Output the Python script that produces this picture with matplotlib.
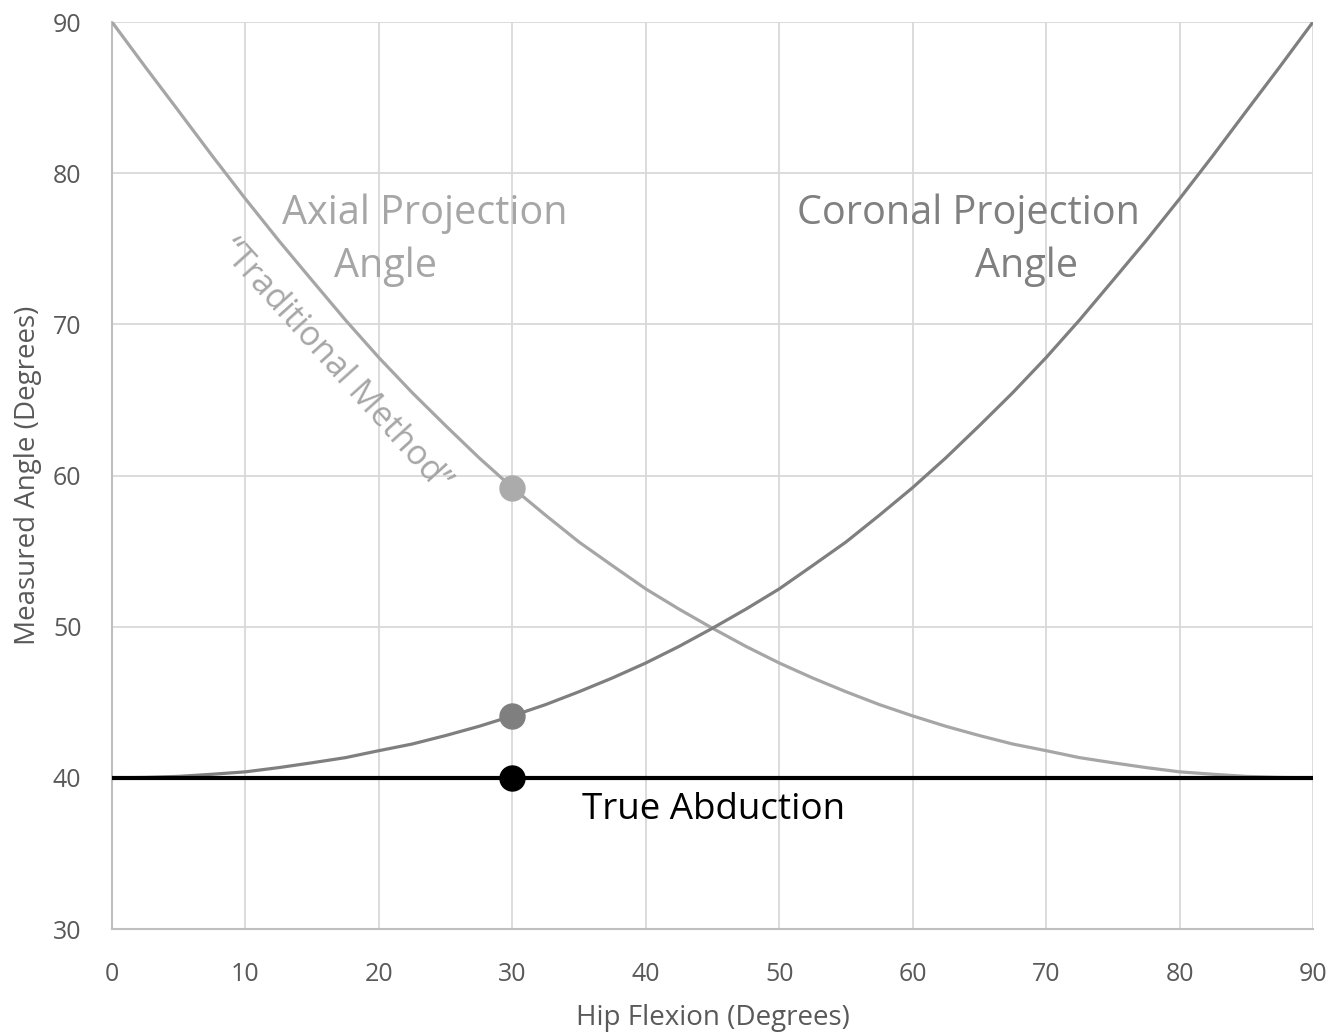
import matplotlib.pyplot as plt

# hip flexion (deg) and the measured angles
flexion = [0, 2.5, 5, 7.5, 10, 12.5, 15, 17.5, 20, 22.5, 25, 27.5, 30, 32.5, 35, 37.5, 40, 42.5, 45,
           47.5, 50, 52.5, 55, 57.5, 60, 62.5, 65, 67.5, 70, 72.5, 75, 77.5, 80, 82.5, 85, 87.5, 90]
coronal = [40.0, 40.03, 40.1, 40.24, 40.4, 40.68, 41.0, 41.34, 41.8, 42.24, 42.8, 43.41, 44.1, 44.85,
           45.7, 46.61, 47.6, 48.7, 49.9, 51.16, 52.5, 54.04, 55.6, 57.37, 59.2, 61.18, 63.3, 65.48,
           67.8, 70.28, 72.9, 75.54, 78.3, 81.16, 84.1, 87.02, 90.0]
axial = coronal[::-1]  # the axial curve mirrors the coronal one about 45 deg
true_abd = [40.0] * len(flexion)

pt_x = 30
pt_axial = 59.2
pt_coronal = 44.1
pt_true = 40.0

plt.rcParams['font.family'] = ['Open Sans', 'DejaVu Sans']

fig = plt.figure(figsize=(13.32, 10.34), dpi=100)
ax = fig.add_axes([0.0841, 0.1015, 0.9016, 0.8772])

ax.plot(flexion, axial, color='#a6a6a6', lw=2.3, zorder=3)
ax.plot(flexion, coronal, color='#7f7f7f', lw=2.3, zorder=3)
ax.plot(flexion, true_abd, color='black', lw=3, zorder=4)

ax.plot(pt_x, pt_axial, 'o', color='#ababab', ms=18, zorder=5)
ax.plot(pt_x, pt_coronal, 'o', color='#7f7f7f', ms=18, zorder=5)
ax.plot(pt_x, pt_true, 'o', color='black', ms=18, zorder=5)

ax.set_xlim(0, 90)
ax.set_ylim(30, 90)
ax.set_xticks(range(0, 91, 10))
ax.set_yticks(range(30, 91, 10))
ax.grid(True, color='#d9d9d9', lw=1.3)
ax.set_axisbelow(True)
for s in ['top', 'right']:
    ax.spines[s].set_visible(False)
for s in ['left', 'bottom']:
    ax.spines[s].set_color('#bfbfbf')
    ax.spines[s].set_linewidth(1.5)
ax.tick_params(axis='x', length=0, labelsize=18, labelcolor='#595959', pad=24)
ax.tick_params(axis='y', length=0, labelsize=18, labelcolor='#595959', pad=22)

ax.set_xlabel('Hip Flexion (Degrees)', fontsize=20, color='#595959', labelpad=12)
ax.set_ylabel('Measured Angle (Degrees)', fontsize=20, color='#595959', labelpad=8)

ax.text(23.45, 77.3, 'Axial Projection', fontsize=28.5, color='#a6a6a6', ha='center', va='center')
ax.text(20.46, 73.8, 'Angle', fontsize=28.5, color='#a6a6a6', ha='center', va='center')
ax.text(64.15, 77.3, 'Coronal Projection', fontsize=28.5, color='#808080', ha='center', va='center')
ax.text(68.5, 73.8, 'Angle', fontsize=28.5, color='#808080', ha='center', va='center')
ax.text(16.7, 67.3, '\u201cTraditional Method\u201d', fontsize=24.5, color='#a6a6a6',
        ha='center', va='center', rotation=-48, rotation_mode='anchor')
ax.text(45.1, 37.9, 'True Abduction', fontsize=26.5, color='black', ha='center', va='center')

fig.savefig('out.png', dpi=100)
